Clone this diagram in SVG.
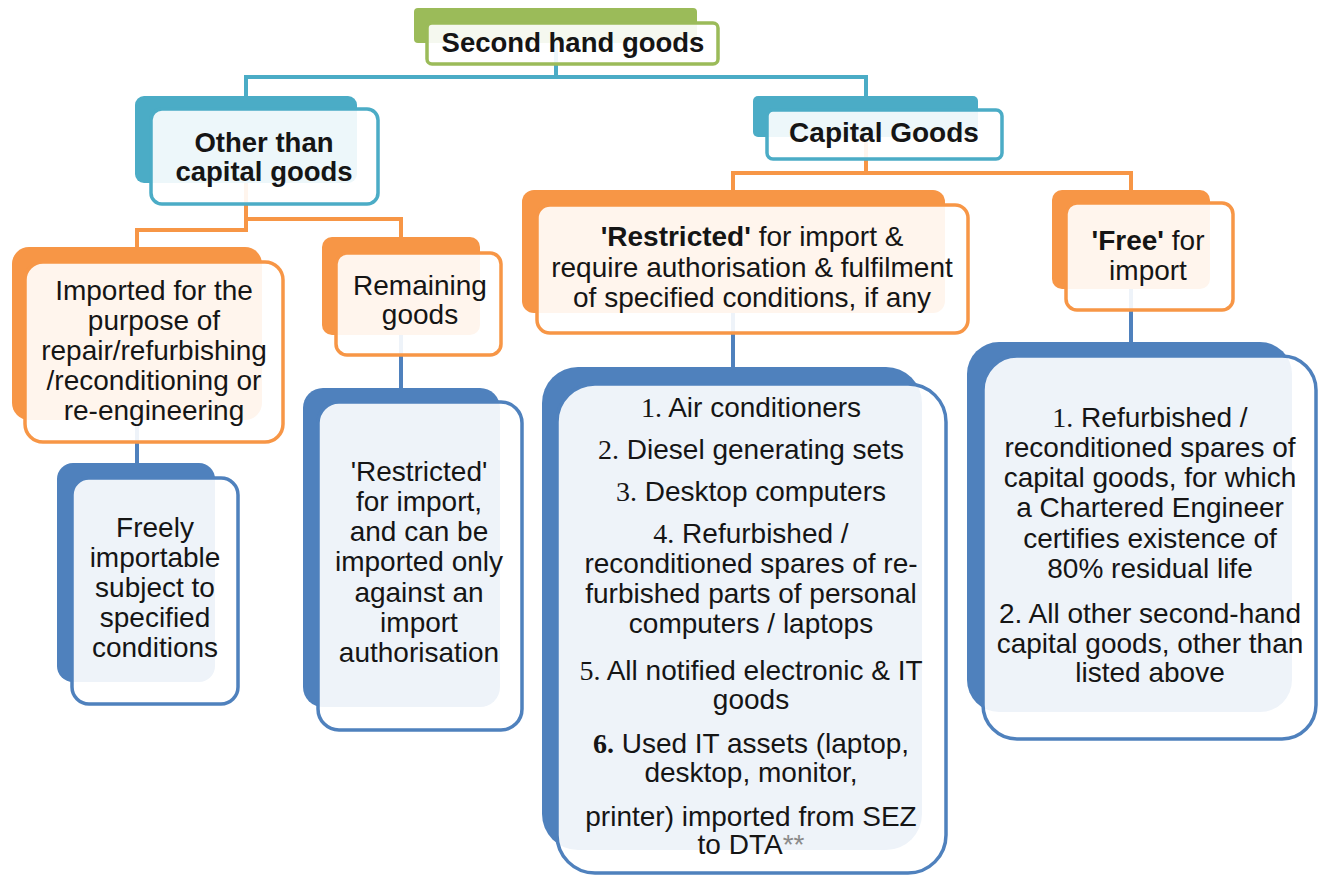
<svg xmlns="http://www.w3.org/2000/svg" width="1321" height="875" viewBox="0 0 1321 875">
<style>
.bk{stroke:none}
.fr{fill:#ffffff;fill-opacity:0.9;stroke-width:3.5}
.green{fill:#9BBB59}.sgreen{stroke:#9BBB59}
.teal{fill:#4BACC6}.steal{stroke:#4BACC6}
.orange{fill:#F79646}.sorange{stroke:#F79646}
.blue{fill:#4F81BD}.sblue{stroke:#4F81BD}
.t{font-family:"Liberation Sans",Arial,sans-serif;font-size:28px;fill:#151515;text-anchor:middle}
.b{font-weight:bold}
.hb{font-size:27.5px}
.n{font-family:"Liberation Serif","Times New Roman",serif}
.ast{fill:#8a8a8a}
.c{fill:none;stroke-width:4;stroke-linejoin:miter}
.ct{stroke:#4BACC6}.co{stroke:#F79646}.cb{stroke:#4F81BD}
</style>
<rect width="1321" height="875" fill="#ffffff"/>
<g id="connectors">
  <path class="c ct" d="M556,43 V77 M246,96 V77 H866 V96"/>
  <path class="c co" d="M246,183 V230 H137 V247 M246,219 H401 V237"/>
  <path class="c co" d="M866,137 V173 H733 V190 M866,173 H1131 V190"/>
  <path class="c cb" d="M137,420 V463"/>
  <path class="c cb" d="M401,335 V388"/>
  <path class="c cb" d="M733,313 V367"/>
  <path class="c cb" d="M1131,289 V342"/>
</g>
<g id="n-second-hand">
  <rect class="bk green" x="414" y="8" width="283" height="35" rx="4"/>
  <rect class="fr sgreen" x="427" y="23" width="291" height="41" rx="5"/>
  <text class="t b hb" x="573" y="52">Second hand goods</text>
</g>
<g id="n-other">
  <rect class="bk teal" x="135" y="96" width="222" height="87" rx="9"/>
  <rect class="fr steal" x="151" y="109" width="227" height="95" rx="11"/>
  <text class="t b hb" x="264" y="152">Other than</text>
  <text class="t b hb" x="264" y="181">capital goods</text>
</g>
<g id="n-capital">
  <rect class="bk teal" x="753" y="96" width="225" height="41" rx="5"/>
  <rect class="fr steal" x="767" y="110" width="235" height="49" rx="6"/>
  <text class="t b" x="884" y="142">Capital Goods</text>
</g>
<g id="n-imported">
  <rect class="bk orange" x="12" y="247" width="250" height="173" rx="17"/>
  <rect class="fr sorange" x="25" y="262" width="258" height="180" rx="18"/>
  <text class="t" x="154" y="300">Imported for the</text>
  <text class="t" x="154" y="330">purpose of</text>
  <text class="t" x="154" y="360">repair/refurbishing</text>
  <text class="t" x="154" y="390">/reconditioning or</text>
  <text class="t" x="154" y="420">re-engineering</text>
</g>
<g id="n-remaining">
  <rect class="bk orange" x="322" y="237" width="158" height="98" rx="10"/>
  <rect class="fr sorange" x="336" y="253" width="165" height="102" rx="11"/>
  <text class="t" x="420" y="295">Remaining</text>
  <text class="t" x="420" y="324">goods</text>
</g>
<g id="n-restricted">
  <rect class="bk orange" x="522" y="190" width="423" height="123" rx="12"/>
  <rect class="fr sorange" x="537" y="205" width="431" height="128" rx="13"/>
  <text class="t" x="752" y="246"><tspan class="b">'Restricted'</tspan> for import &amp;</text>
  <text class="t" x="752" y="277">require authorisation &amp; fulfilment</text>
  <text class="t" x="752" y="307">of specified conditions, if any</text>
</g>
<g id="n-free">
  <rect class="bk orange" x="1052" y="190" width="158" height="99" rx="10"/>
  <rect class="fr sorange" x="1066" y="203" width="167" height="107" rx="11"/>
  <text class="t" x="1148" y="250"><tspan class="b">'Free'</tspan> for</text>
  <text class="t" x="1148" y="280">import</text>
</g>
<g id="n-freely">
  <rect class="bk blue" x="57" y="463" width="158" height="219" rx="16"/>
  <rect class="fr sblue" x="72" y="478" width="166" height="226" rx="17"/>
  <text class="t" x="155" y="537">Freely</text>
  <text class="t" x="155" y="567">importable</text>
  <text class="t" x="155" y="597">subject to</text>
  <text class="t" x="155" y="627">specified</text>
  <text class="t" x="155" y="657">conditions</text>
</g>
<g id="n-restricted-import">
  <rect class="bk blue" x="303" y="388" width="197" height="319" rx="20"/>
  <rect class="fr sblue" x="318" y="402" width="204" height="328" rx="21"/>
  <text class="t" x="419" y="481">'Restricted'</text>
  <text class="t" x="419" y="511">for import,</text>
  <text class="t" x="419" y="541">and can be</text>
  <text class="t" x="419" y="571">imported only</text>
  <text class="t" x="419" y="602">against an</text>
  <text class="t" x="419" y="632">import</text>
  <text class="t" x="419" y="662">authorisation</text>
</g>
<g id="n-restricted-list">
  <rect class="bk blue" x="542" y="367" width="380" height="483" rx="36"/>
  <rect class="fr sblue" x="557" y="384" width="389" height="489" rx="38"/>
  <text class="t" x="751" y="417"><tspan class="n">1.</tspan> Air conditioners</text>
  <text class="t" x="751" y="459"><tspan class="n">2.</tspan> Diesel generating sets</text>
  <text class="t" x="751" y="501"><tspan class="n">3.</tspan> Desktop computers</text>
  <text class="t" x="751" y="543"><tspan class="n">4.</tspan> Refurbished /</text>
  <text class="t" x="751" y="573">reconditioned spares of re-</text>
  <text class="t" x="751" y="603">furbished parts of personal</text>
  <text class="t" x="751" y="633">computers / laptops</text>
  <text class="t" x="751" y="680"><tspan class="n">5.</tspan> All notified electronic &amp; IT</text>
  <text class="t" x="751" y="709">goods</text>
  <text class="t" x="751" y="753"><tspan class="n b">6.</tspan> Used IT assets (laptop,</text>
  <text class="t" x="751" y="782">desktop, monitor,</text>
  <text class="t" x="751" y="826">printer) imported from SEZ</text>
  <text class="t" x="751" y="854">to DTA<tspan class="ast">**</tspan></text>
</g>
<g id="n-free-list">
  <rect class="bk blue" x="967" y="342" width="325" height="370" rx="32"/>
  <rect class="fr sblue" x="983" y="356" width="333" height="383" rx="34"/>
  <text class="t" x="1150" y="427"><tspan class="n">1.</tspan> Refurbished /</text>
  <text class="t" x="1150" y="457">reconditioned spares of</text>
  <text class="t" x="1150" y="487">capital goods, for which</text>
  <text class="t" x="1150" y="517">a Chartered Engineer</text>
  <text class="t" x="1150" y="548">certifies existence of</text>
  <text class="t" x="1150" y="578">80% residual life</text>
  <text class="t" x="1150" y="623">2. All other second-hand</text>
  <text class="t" x="1150" y="653">capital goods, other than</text>
  <text class="t" x="1150" y="682">listed above</text>
</g>
</svg>
